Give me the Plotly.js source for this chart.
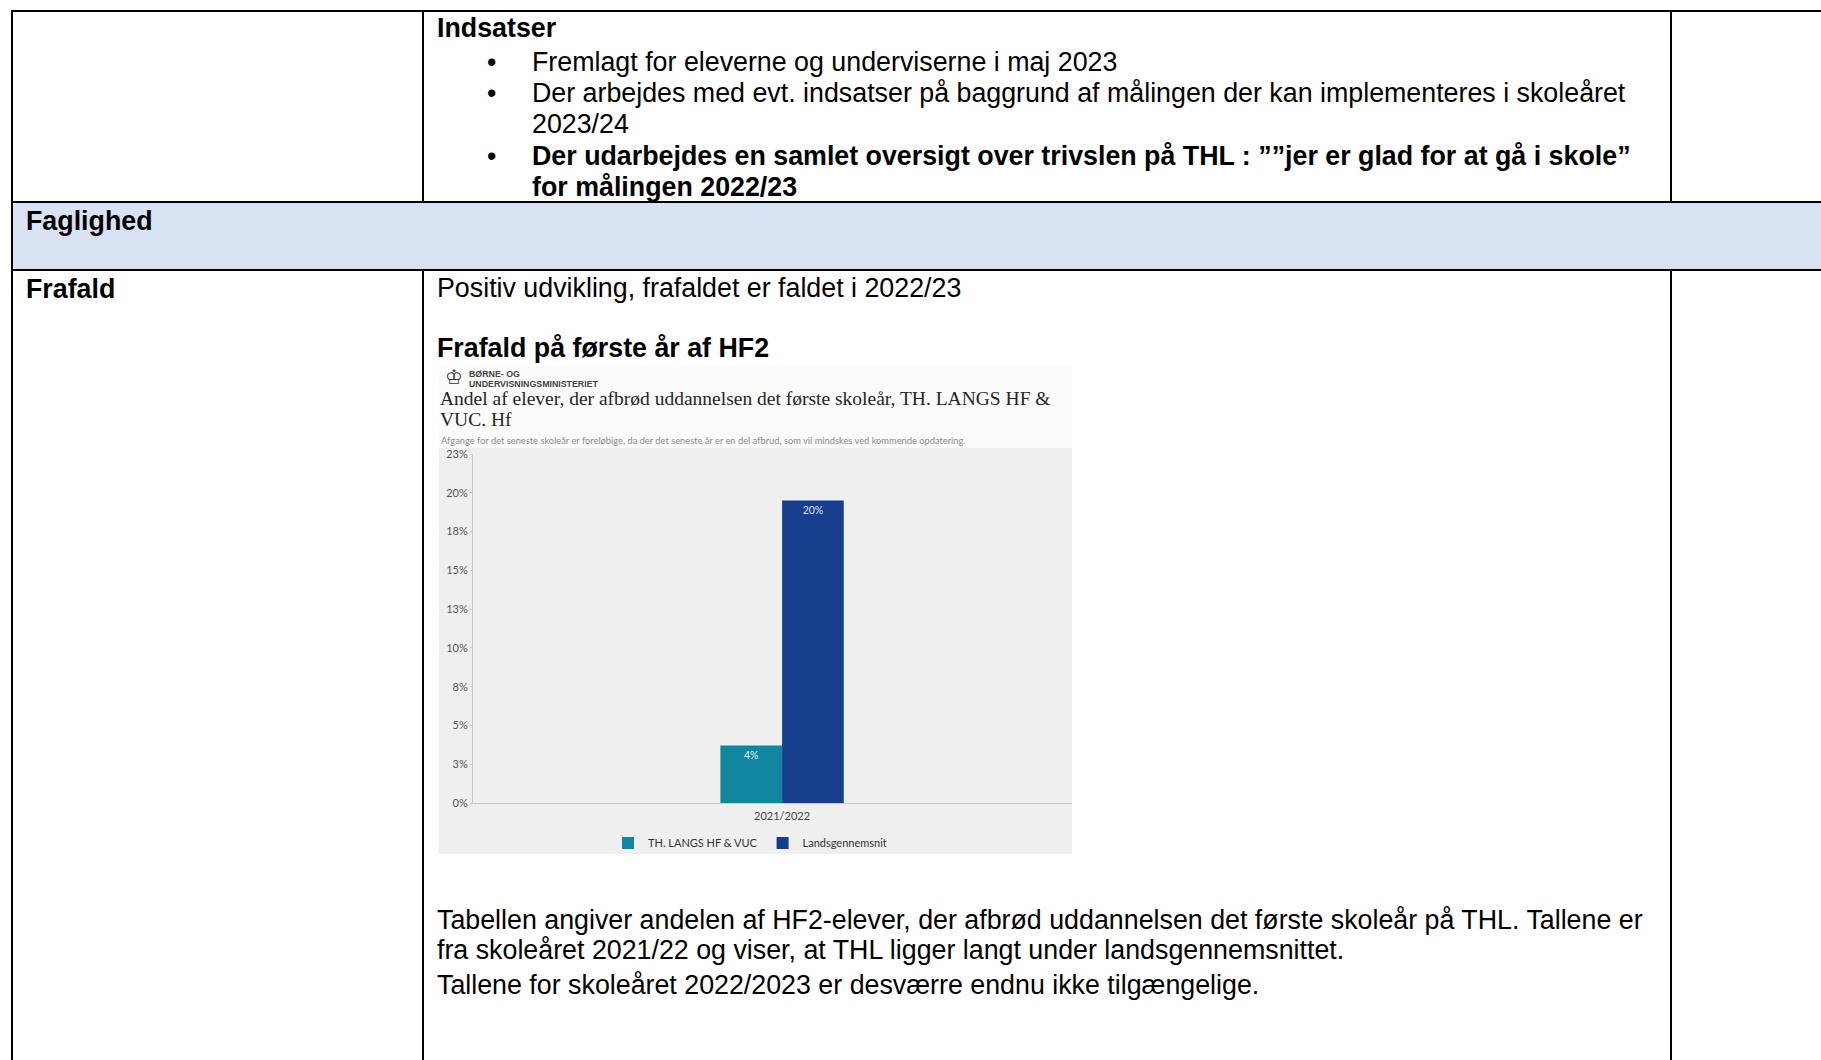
<!DOCTYPE html>
<html>
<head>
<meta charset="utf-8">
<script src="https://cdn.plot.ly/plotly-3.0.1.min.js"></script>
<style>html,body{margin:0;padding:0;background:#fff;}#chart{width:1821px;height:1060px;}</style>
</head>
<body>
<div id="chart"></div>
<script>
// ---- Data ----
const categories = ['2021/2022'];
const seriesNames = ['TH. LANGS HF & VUC', 'Landsgennemsnit'];
const thlValues = [0.037];
const landsValues = [0.195];
const seriesColors = ['#13869f', '#173e8c'];
const yTickVals = [0, 0.025, 0.05, 0.075, 0.10, 0.125, 0.15, 0.175, 0.20, 0.225];
const yTickText = ['0%', '3%', '5%', '8%', '10%', '13%', '15%', '18%', '20%', '23%'];

// ---- Page texts ----
const chartTitleLines = ['Andel af elever, der afbrød uddannelsen det første skoleår, TH. LANGS HF &', 'VUC. Hf'];
const chartSubtitle = 'Afgange for det seneste skoleår er foreløbige, da der det seneste år er en del afbrud, som vil mindskes ved kommende opdatering.';
const bulletLines = [
  'Fremlagt for eleverne og underviserne i maj 2023',
  'Der arbejdes med evt. indsatser på baggrund af målingen der kan implementeres i skoleåret',
  '2023/24',
  '<b>Der udarbejdes en samlet oversigt over trivslen på THL : ””jer er glad for at gå i skole”</b>',
  '<b>for målingen 2022/23</b>'
];
const paragraphLines = [
  'Tabellen angiver andelen af HF2-elever, der afbrød uddannelsen det første skoleår på THL. Tallene er',
  'fra skoleåret 2021/22 og viser, at THL ligger langt under landsgennemsnittet.',
  'Tallene for skoleåret 2022/2023 er desværre endnu ikke tilgængelige.'
];

const W = 1821, H = 1060;
const px = x => x / W;
const py = y => 1 - y / H;
const ARIAL = 'Arial, "Liberation Sans", sans-serif';
const SERIF = '"Liberation Serif", "DejaVu Serif", serif';
const FS = 26.8;
const DX = -3; // annotation padding compensation

function txt(x, y, text, opts) {
  opts = opts || {};
  return Object.assign({
    xref: 'paper', yref: 'paper', x: px(x + DX), y: py(y),
    xanchor: 'left', yanchor: 'middle', showarrow: false, text: text,
    font: {family: ARIAL, size: FS, color: '#000'}
  }, opts);
}
function line(x0, y0, x1, y1, w) {
  return {type: 'line', xref: 'paper', yref: 'paper', x0: px(x0), y0: py(y0), x1: px(x1), y1: py(y1),
          line: {color: '#000', width: w || 2}};
}
function rect(x0, y0, x1, y1, color) {
  return {type: 'rect', xref: 'paper', yref: 'paper', x0: px(x0), y0: py(y0), x1: px(x1), y1: py(y1),
          fillcolor: color, line: {width: 0}, layer: 'below'};
}

const shapes = [
  rect(12, 202, W, 270, '#d9e2f3'),
  rect(439, 366, 1072, 448, '#fbfbfb'),
  rect(439, 448, 1072, 854, '#efefef'),
  line(11, 11, W, 11),
  line(12, 10, 12, H),
  line(423, 11, 423, 202),
  line(423, 270, 423, H),
  line(1671, 11, 1671, 202),
  line(1671, 270, 1671, H),
  line(11, 202, W, 202),
  line(11, 270, W, 270)
];

const bulletY = [62, 93, 124, 156, 187];
const annotations = [
  txt(438, 28, '<b>Indsatser</b>'),
  txt(27, 221, '<b>Faglighed</b>'),
  txt(27, 289, '<b>Frafald</b>'),
  txt(438, 288, 'Positiv udvikling, frafaldet er faldet i 2022/23'),
  txt(438, 348, '<b>Frafald på første år af HF2</b>'),
  // logo
  txt(446, 377, '♔', {font: {family: 'DejaVu Sans', size: 20, color: '#333'}}),
  txt(470, 374, '<b>BØRNE- OG</b>', {font: {family: ARIAL, size: 8.8, color: '#444'}}),
  txt(470, 384, '<b>UNDERVISNINGSMINISTERIET</b>', {font: {family: ARIAL, size: 8.8, color: '#444'}}),
  txt(441, 398, chartTitleLines[0], {font: {family: SERIF, size: 19.5, color: '#262626'}}),
  txt(441, 419, chartTitleLines[1], {font: {family: SERIF, size: 19.5, color: '#262626'}}),
  txt(442, 440, chartSubtitle, {font: {family: 'Lato, sans-serif', size: 9.3, color: '#8a8a8a'}})
];
[0, 1, 3].forEach(i => annotations.push(txt(488, bulletY[i], '•', {font: {family: ARIAL, size: FS, color: '#000'}})));
bulletLines.forEach((t, i) => annotations.push(txt(533, bulletY[i], t)));
const paraY = [920, 950, 985];
paragraphLines.forEach((t, i) => annotations.push(txt(438, paraY[i], t)));

const traces = [
  {type: 'bar', name: seriesNames[0], x: categories, y: thlValues, marker: {color: seriesColors[0]},
   texttemplate: '%{y:.0%}', textposition: 'inside', insidetextanchor: 'end', textangle: 0,
   constraintext: 'none', textfont: {family: 'Lato, sans-serif', size: 10.5, color: '#dbeef3'}, hoverinfo: 'skip'},
  {type: 'bar', name: seriesNames[1], x: categories, y: landsValues, marker: {color: seriesColors[1]},
   texttemplate: '%{y:.0%}', textposition: 'inside', insidetextanchor: 'end', textangle: 0,
   constraintext: 'none', textfont: {family: 'Lato, sans-serif', size: 10.5, color: '#dfe6f5'}, hoverinfo: 'skip'}
];

const layout = {
  width: W, height: H,
  margin: {l: 0, r: 0, t: 0, b: 0, pad: 0},
  paper_bgcolor: '#ffffff',
  plot_bgcolor: '#efefef',
  barmode: 'group',
  bargap: 0.794,
  bargroupgap: 0,
  showlegend: true,
  legend: {orientation: 'h', x: px(750), xanchor: 'center', y: py(843), yanchor: 'middle',
           font: {family: 'Lato, sans-serif', size: 11, color: '#333'}, bgcolor: 'rgba(0,0,0,0)',
           itemwidth: 30, traceorder: 'normal', tracegroupgap: 0},
  xaxis: {domain: [px(473), px(1072)], type: 'category', range: [-0.516, 0.484],
          showline: true, linecolor: '#c9c9c9', linewidth: 1, ticks: '', showgrid: false, zeroline: false,
          ticklabelstandoff: 3,
          tickfont: {family: 'Lato, sans-serif', size: 11, color: '#444'}, fixedrange: true},
  yaxis: {domain: [py(803), py(454)], range: [0, 0.225], tickvals: yTickVals, ticktext: yTickText,
          showline: true, linecolor: '#c9c9c9', linewidth: 1, ticks: 'outside', ticklen: 2, tickcolor: '#c9c9c9',
          showgrid: false, zeroline: false,
          tickfont: {family: 'Lato, sans-serif', size: 11, color: '#555'}, fixedrange: true},
  shapes: shapes,
  annotations: annotations
};

Plotly.newPlot('chart', traces, layout, {displayModeBar: false, staticPlot: true});
</script>
</body>
</html>
